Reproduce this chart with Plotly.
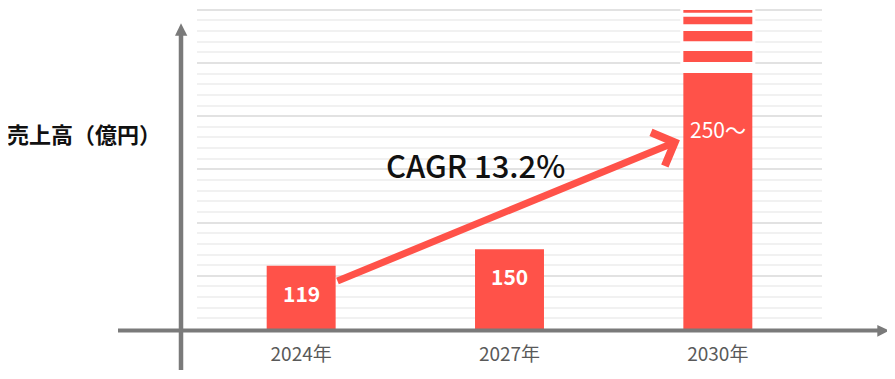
import plotly.graph_objects as go

# ---- data ----
categories = ["2024年", "2027年", "2030年"]
sales = [119, 150, 250]
sales_labels = ["119", "150", "250～"]
# 2030 is drawn off-scale as a "broken" bar: display height + stripe segments
bar_display = [119, 150, 481]
stripe_base_2030 = [502, 541, 573, 594.5]
stripe_top_2030 = [522.5, 560, 587, 599.5]
cagr_text = "CAGR 13.2%"
cagr_from = (0.167, 89)    # arrow tail (x index, value units)
cagr_to = (1.818, 355)     # arrow tip
y_title = "売上高（億円）"

RED = "#FF5249"
GRAY = "#7A7A7A"
FONT = "Noto Sans CJK JP"

OFF = 8  # page body margin
W, H = 895 - OFF, 379 - OFF
ML, MT = 197 - OFF, 8 - OFF
MB = H - (329 - OFF)
MR = W - (822 - OFF)
PW, PH = W - ML - MR, H - MT - MB
YMAX = PH / 0.532
XR = [-0.5, 2.5]


def px(x):
    return (x - OFF - ML) / PW


def py(y):
    return (H - MB - (y - OFF)) / PH


xs = list(range(len(categories)))
fig = go.Figure()

# white backing behind the broken part of the 2030 bar (hides gridlines)
fig.add_trace(go.Bar(x=[xs[2]], y=[YMAX - bar_display[2]], base=[bar_display[2]],
                     width=0.36, marker=dict(color="white", line_width=0),
                     hoverinfo="skip", showlegend=False))
fig.add_trace(go.Bar(x=xs, y=bar_display, width=0.331,
                     marker=dict(color=RED, line_width=0), showlegend=False))
fig.add_trace(go.Bar(x=[xs[2]] * len(stripe_base_2030),
                     y=[t - b for b, t in zip(stripe_base_2030, stripe_top_2030)],
                     base=stripe_base_2030, width=0.331,
                     marker=dict(color=RED, line_width=0), showlegend=False))

annotations = []
for i, lab in enumerate(sales_labels):
    if i < 2:
        annotations.append(dict(x=xs[i], y=bar_display[i], yshift=-27, text=f"<b>{lab}</b>",
                                xanchor="center", showarrow=False,
                                font=dict(family=FONT, size=21, color="white")))
    else:
        annotations.append(dict(x=xs[i], y=bar_display[i], yshift=-56, text=lab,
                                xanchor="center", showarrow=False,
                                font=dict(family=FONT, size=21, color="white")))

annotations.append(dict(x=cagr_to[0], y=cagr_to[1], ax=cagr_from[0], ay=cagr_from[1],
                        xref="x", yref="y", axref="x", ayref="y", text="",
                        showarrow=True, arrowhead=4, arrowsize=1, arrowwidth=7,
                        arrowcolor=RED))
annotations.append(dict(xref="paper", yref="paper", x=px(475), y=py(164), text=cagr_text,
                        xanchor="center", yanchor="middle", showarrow=False,
                        font=dict(family=FONT, size=31, color="#111111", weight=500)))
annotations.append(dict(xref="paper", yref="paper", x=px(84), y=py(133), text=f"<b>{y_title}</b>",
                        xanchor="center", yanchor="middle", showarrow=False,
                        font=dict(family=FONT, size=22, color="#111111")))

shapes = [
    dict(type="line", xref="paper", yref="paper", x0=px(181), x1=px(181), y0=py(370), y1=py(34),
         line=dict(color=GRAY, width=4.5)),
    dict(type="line", xref="paper", yref="paper", x0=px(118), x1=px(879), y0=py(330.5), y1=py(330.5),
         line=dict(color=GRAY, width=4)),
    dict(type="path", xref="paper", yref="paper",
         path=f"M {px(175)},{py(35.7)} L {px(181)},{py(23.3)} L {px(187.3)},{py(35.7)} Z",
         fillcolor=GRAY, line=dict(width=0)),
    dict(type="path", xref="paper", yref="paper",
         path=f"M {px(877.3)},{py(325)} L {px(889.3)},{py(330.7)} L {px(877.3)},{py(336.7)} Z",
         fillcolor=GRAY, line=dict(width=0)),
]

fig.update_layout(
    width=W, height=H, margin=dict(l=ML, r=MR, t=MT, b=MB),
    paper_bgcolor="white", plot_bgcolor="white",
    barmode="overlay", showlegend=False,
    font=dict(family=FONT),
    annotations=annotations, shapes=shapes,
    xaxis=dict(range=XR, tickvals=xs, ticktext=categories, showgrid=False, zeroline=False,
               showline=False, ticks="", ticklabelstandoff=12,
               tickfont=dict(family=FONT, size=19, color="#595959"), fixedrange=True),
    yaxis=dict(range=[0, YMAX], showticklabels=False, zeroline=False, showline=False,
               dtick=100, gridcolor="#e2e2e2", gridwidth=1.5,
               minor=dict(dtick=20, showgrid=True, gridcolor="#f1f1f1", gridwidth=1.5),
               fixedrange=True),
)

fig.write_html("out.html")
